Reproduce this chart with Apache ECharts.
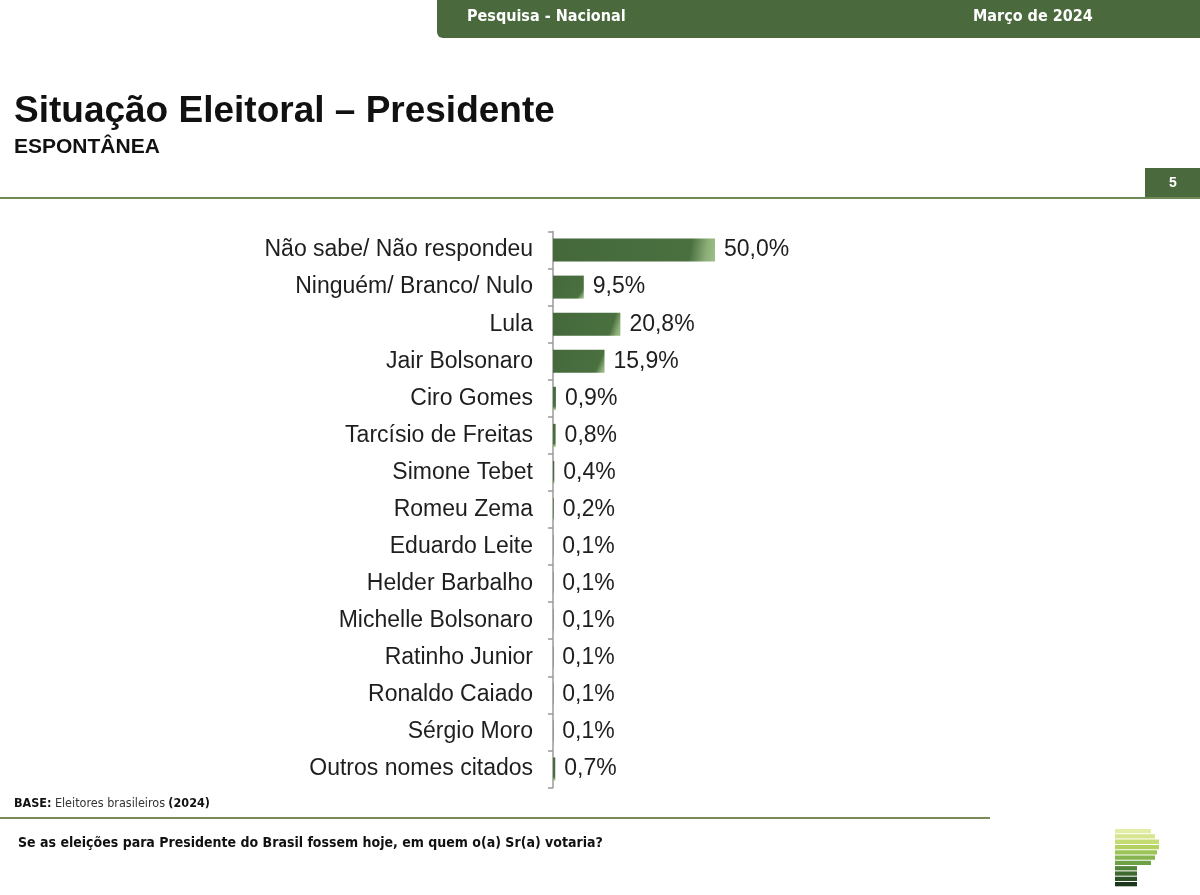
<!DOCTYPE html>
<html><head><meta charset="utf-8">
<script src="https://cdn.jsdelivr.net/npm/echarts@6/dist/echarts.min.js"></script>
<style>html,body{margin:0;padding:0;background:#fff}#c{width:1200px;height:895px}</style>
</head><body><div id="c"></div>
<script>
const categories = ["Não sabe/ Não respondeu","Ninguém/ Branco/ Nulo","Lula","Jair Bolsonaro","Ciro Gomes","Tarcísio de Freitas","Simone Tebet","Romeu Zema","Eduardo Leite","Helder Barbalho","Michelle Bolsonaro","Ratinho Junior","Ronaldo Caiado","Sérgio Moro","Outros nomes citados"];
const values = [50.0,9.5,20.8,15.9,0.9,0.8,0.4,0.2,0.1,0.1,0.1,0.1,0.1,0.1,0.7];
const headerLeft = "Pesquisa - Nacional";
const headerRight = "Março de 2024";
const titleText = "Situação Eleitoral – Presidente";
const subtitleText = "ESPONTÂNEA";
const pageNumber = "5";
const questionText = "Se as eleições para Presidente do Brasil fossem hoje, em quem o(a) Sr(a) votaria?";

const green = '#4a6a3d';
const F = "'Liberation Sans', Arial, sans-serif";
const FN = "'DejaVu Sans Condensed', 'Liberation Sans', sans-serif";

const chart = echarts.init(document.getElementById('c'));

const logoColors = ['#e4eda6','#d6e58e','#c5dc72','#b2d160','#9dc457','#86b44e','#6da145','#52853a','#3e6a30','#2c5026','#1c381a'];
const logoWidths = [36,40,44,44,42,40,36,22,22,22,22];
const logo = logoColors.map((c,i)=>({type:'rect',shape:{x:1115,y:829+i*5.3,width:logoWidths[i],height:4.3},style:{fill:c},silent:true}));

chart.setOption({
  animation:false,
  grid:{left:553,right:323,top:231.5,bottom:107.5,containLabel:false},
  xAxis:{type:'value',min:0,max:100,show:false},
  yAxis:{type:'category',data:categories,inverse:true,
    axisLine:{show:true,lineStyle:{color:'#9a9a9a',width:1.5}},
    axisTick:{show:true,length:5,alignWithLabel:false,lineStyle:{color:'#9a9a9a',width:1.5}},
    axisLabel:{fontFamily:F,fontSize:23,color:'#1e1e1e',margin:20}
  },
  series:[{type:'bar',data:values,barWidth:23,
    itemStyle:{color:new echarts.graphic.LinearGradient(0,0,1,1,[
      {offset:0,color:'#44683a'},{offset:0.84,color:'#4a7040'},{offset:0.94,color:'#8cae78'},{offset:1,color:'#9fbf88'}])},
    label:{show:true,position:'right',distance:9,fontFamily:F,fontSize:23,color:'#1e1e1e',
      formatter:p=>p.value.toFixed(1).replace('.',',')+'%'}
  }],
  graphic:[
    {type:'rect',shape:{x:437,y:-10,width:800,height:48,r:6},style:{fill:green},silent:true},
    {type:'text',style:{x:467,y:17,text:headerLeft,fill:'#fff',font:'bold 16px '+FN,verticalAlign:'middle'}},
    {type:'text',style:{x:973,y:17,text:headerRight,fill:'#fff',font:'bold 16px '+FN,verticalAlign:'middle'}},
    {type:'text',style:{x:14,y:112,text:titleText,fill:'#111',font:'bold 37px '+F,verticalAlign:'middle'}},
    {type:'text',style:{x:14,y:147,text:subtitleText,fill:'#111',font:'bold 21px '+F,verticalAlign:'middle'}},
    {type:'rect',shape:{x:1145,y:168,width:60,height:30},style:{fill:green},silent:true},
    {type:'text',style:{x:1173,y:183,text:pageNumber,fill:'#fff',font:'bold 14px '+F,align:'center',verticalAlign:'middle'}},
    {type:'rect',shape:{x:0,y:197,width:1200,height:2},style:{fill:'#6f8a55'},silent:true},
    {type:'text',style:{x:14,y:804,text:'{b|BASE:} {n|Eleitores brasileiros} {b|(2024)}',verticalAlign:'middle',
      rich:{b:{font:'bold 12.5px '+FN,fill:'#111'},n:{font:'12.5px '+FN,fill:'#333'}}}},
    {type:'rect',shape:{x:0,y:817,width:990,height:2},style:{fill:'#7a8a5a'},silent:true},
    {type:'text',style:{x:18,y:843,text:questionText,fill:'#111',font:'bold 14px '+FN,verticalAlign:'middle'}}
  ].concat(logo)
});
</script></body></html>
